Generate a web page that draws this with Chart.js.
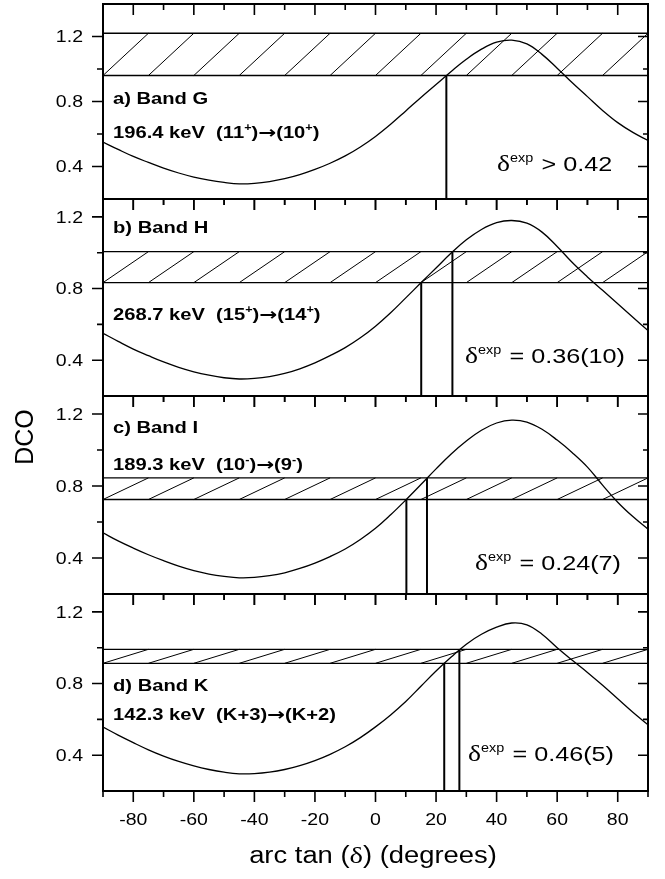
<!DOCTYPE html>
<html>
<head>
<meta charset="utf-8">
<script src="https://cdn.jsdelivr.net/npm/chart.js@4"></script>
<style>
  html, body { margin: 0; padding: 0; background: #fff; }
  #wrap { position: relative; width: 665px; height: 879px; }
  #wrap canvas { position: absolute; left: 0; top: 0; }
</style>
</head>
<body>
<div id="wrap">
  <canvas id="panel0" width="665" height="879"></canvas>
  <canvas id="panel1" width="665" height="879"></canvas>
  <canvas id="panel2" width="665" height="879"></canvas>
  <canvas id="panel3" width="665" height="879"></canvas>
</div>
<script>
// === Data (every 5 degrees) ===
const angles = [-90, -85, -80, -75, -70, -65, -60, -55, -50, -45, -40, -35, -30, -25, -20, -15, -10, -5,
                0, 5, 10, 15, 20, 25, 30, 35, 40, 45, 50, 55, 60, 65, 70, 75, 80, 85, 90];
const dcoBandG = [0.55, 0.505, 0.462, 0.425, 0.39, 0.36, 0.335, 0.316, 0.302, 0.293, 0.296, 0.307, 0.325, 0.35, 0.382, 0.42, 0.465, 0.52,
                  0.585, 0.66, 0.742, 0.825, 0.905, 0.985, 1.06, 1.122, 1.165, 1.178, 1.155, 1.09, 1.005, 0.915, 0.83, 0.745, 0.67, 0.61, 0.56];
const dcoBandH = [0.55, 0.505, 0.462, 0.425, 0.39, 0.36, 0.335, 0.316, 0.302, 0.295, 0.298, 0.308, 0.326, 0.352, 0.385, 0.425, 0.47, 0.525,
                  0.59, 0.665, 0.748, 0.832, 0.915, 0.998, 1.072, 1.13, 1.168, 1.18, 1.165, 1.115, 1.035, 0.945, 0.865, 0.79, 0.715, 0.64, 0.565];
const dcoBandI = [0.54, 0.495, 0.455, 0.418, 0.385, 0.355, 0.33, 0.311, 0.298, 0.29, 0.292, 0.302, 0.318, 0.342, 0.372, 0.408, 0.45, 0.503,
                  0.565, 0.64, 0.722, 0.808, 0.895, 0.978, 1.05, 1.11, 1.15, 1.166, 1.155, 1.115, 1.055, 0.985, 0.905, 0.805, 0.71, 0.63, 0.56];
const dcoBandK = [0.557, 0.512, 0.47, 0.43, 0.395, 0.365, 0.34, 0.32, 0.305, 0.296, 0.297, 0.305, 0.32, 0.342, 0.37, 0.405, 0.447, 0.498,
                  0.558, 0.625, 0.70, 0.785, 0.87, 0.948, 1.02, 1.075, 1.115, 1.138, 1.128, 1.075, 1.0, 0.93, 0.862, 0.79, 0.715, 0.64, 0.57];
const curves = [dcoBandG, dcoBandH, dcoBandI, dcoBandK];

// experimental DCO band (lower / upper edge)
const bandLow  = [0.96, 0.833, 0.725, 0.913];
const bandHigh = [1.22, 1.006, 0.845, 0.991];

// vertical limit lines (arc tan delta) and where they stop
const limitAngles = [[23.4], [15.1, 25.4], [10.2, 17.0], [22.7, 27.7]];
const limitTops   = [[0.96], [0.833, 1.006], [0.725, 0.845], [0.913, 0.991]];

const yMins = [0.2, 0.2, 0.2, 0.2];
const yMaxes = [1.4, 1.3, 1.3, 1.3];

const xTickValues = [-80, -60, -40, -20, 0, 20, 40, 60, 80];
const xTickLabels = ['-80', '-60', '-40', '-20', '0', '20', '40', '60', '80'];
const yTickValues = [0.4, 0.8, 1.2];
const yTickLabels = ['0.4', '0.8', '1.2'];
const yMinorValues = [0.6, 1.0];

const panelNames = ['a) Band G', 'b) Band H', 'c) Band I', 'd) Band K'];
const gammaEnergies = ['196.4 keV', '268.7 keV', '189.3 keV', '142.3 keV'];
const initialStates = [['(11', '+', ')'], ['(15', '+', ')'], ['(10', '-', ')'], ['(K+3)', '', '']];
const finalStates   = [['(10', '+', ')'], ['(14', '+', ')'], ['(9', '-', ')'], ['(K+2)', '', '']];
const deltaResults = ['> 0.42', '= 0.36(10)', '= 0.24(7)', '= 0.46(5)'];

// === Layout ===
const panelTops = [4, 199, 396, 594];
const panelBottoms = [199, 396, 594, 791];
const textLayout = [
  { title: 100, trans: 134, dx: 497, dy: 167 },
  { title: 34,  trans: 121, dx: 465, dy: 164 },
  { title: 37,  trans: 74,  dx: 475, dy: 174 },
  { title: 97,  trans: 126, dx: 468, dy: 167 }
];
const SANS = '"Liberation Sans", Arial, sans-serif';
const SERIF = '"Liberation Serif", "Times New Roman", serif';
const SX = 1.22; // the original figure is a bit stretched sideways

// draw a list of text runs, left to right, with a horizontal stretch
function drawRuns(ctx, runs, x, y, sx, align) {
  ctx.save();
  let total = 0;
  runs.forEach(r => { ctx.font = r.font; total += ctx.measureText(r.t).width + (r.gap || 0); });
  ctx.translate(x, y);
  ctx.scale(sx, 1);
  let cx = align === 'center' ? -total / 2 : align === 'right' ? -total : 0;
  ctx.textAlign = 'left';
  ctx.textBaseline = 'alphabetic';
  runs.forEach(r => {
    ctx.font = r.font;
    ctx.fillText(r.t, cx, r.dy || 0);
    cx += ctx.measureText(r.t).width + (r.gap || 0);
  });
  ctx.restore();
}

function drawPanel(chart, i) {
  const { ctx, chartArea: a, scales: { x, y } } = chart;
  ctx.save();
  ctx.strokeStyle = '#000';
  ctx.fillStyle = '#000';

  // hatch inside the band
  ctx.lineWidth = 1;
  ctx.beginPath();
  for (let d = -90; d < 90; d += 15) {
    ctx.moveTo(x.getPixelForValue(d), y.getPixelForValue(bandLow[i]));
    ctx.lineTo(x.getPixelForValue(d + 15), y.getPixelForValue(bandHigh[i]));
  }
  ctx.stroke();

  // frame
  ctx.lineWidth = 2;
  ctx.strokeRect(a.left, a.top, a.right - a.left, a.bottom - a.top);

  // x ticks: top inward, bottom outward
  ctx.lineWidth = 1.6;
  ctx.beginPath();
  for (let d = -90; d <= 90; d += 10) {
    const px = x.getPixelForValue(d);
    const len = d % 20 === 0 ? 11 : 6;
    ctx.moveTo(px, a.top); ctx.lineTo(px, a.top + len);
    ctx.moveTo(px, a.bottom); ctx.lineTo(px, a.bottom + len);
  }
  // y ticks: left outward, right inward
  yTickValues.concat(yMinorValues).forEach(v => {
    const py = y.getPixelForValue(v);
    const major = yTickValues.includes(v);
    ctx.moveTo(a.left, py); ctx.lineTo(a.left - (major ? 11 : 6), py);
    ctx.moveTo(a.right, py); ctx.lineTo(a.right - (major ? 10 : 5), py);
  });
  ctx.stroke();

  // y tick labels
  yTickValues.forEach((v, k) => {
    drawRuns(ctx, [{ t: yTickLabels[k], font: '16px ' + SANS }], 83, y.getPixelForValue(v) + 5.7, SX, 'right');
  });

  // annotations
  const L = textLayout[i];
  const bold = 'bold 16px ' + SANS;
  const sup = 'bold 10px ' + SANS;
  drawRuns(ctx, [{ t: panelNames[i], font: bold }], 113, a.top + L.title, 1.26, 'left');
  const s0 = initialStates[i], s1 = finalStates[i];
  drawRuns(ctx, [
    { t: gammaEnergies[i] + '  ' + s0[0], font: bold },
    { t: s0[1], font: sup, dy: -7 },
    { t: s0[2], font: bold },
    { t: '\u2192', font: 'bold 17px "DejaVu Sans", ' + SANS },
    { t: s1[0], font: bold },
    { t: s1[1], font: sup, dy: -7 },
    { t: s1[2], font: bold }
  ], 113, a.top + L.trans, 1.26, 'left');
  drawRuns(ctx, [
    { t: '\u03b4', font: '23px ' + SERIF },
    { t: 'exp', font: '12px ' + SANS, dy: -9, gap: 1 },
    { t: ' ' + deltaResults[i], font: '21px ' + SANS }
  ], L.dx, a.top + L.dy, 1.2, 'left');

  // shared axis texts on the bottom panel
  if (i === 3) {
    xTickValues.forEach((v, k) => {
      drawRuns(ctx, [{ t: xTickLabels[k], font: '16px ' + SANS }], x.getPixelForValue(v), 825, SX, 'center');
    });
    drawRuns(ctx, [
      { t: 'arc tan (', font: '23px ' + SANS },
      { t: '\u03b4', font: '24px ' + SERIF },
      { t: ') (degrees)', font: '23px ' + SANS }
    ], 373, 863, 1.19, 'center');
    ctx.save();
    ctx.translate(33, 437);
    ctx.rotate(-Math.PI / 2);
    drawRuns(ctx, [{ t: 'DCO', font: '25px ' + SANS }], 0, 0, 1.0, 'center');
    ctx.restore();
  }
  ctx.restore();
}

function makeChart(i) {
  const curvePoints = angles.map((a, k) => ({ x: a, y: curves[i][k] }));
  const lineStyle = { borderColor: '#000', pointRadius: 0, showLine: true, fill: false };
  const datasets = [
    Object.assign({ data: curvePoints, borderWidth: 1.3, tension: 0.4 }, lineStyle),
    Object.assign({ data: [{ x: -90, y: bandLow[i] }, { x: 90, y: bandLow[i] }], borderWidth: 1.3 }, lineStyle),
    Object.assign({ data: [{ x: -90, y: bandHigh[i] }, { x: 90, y: bandHigh[i] }], borderWidth: 1.3 }, lineStyle)
  ];
  limitAngles[i].forEach((ang, k) => {
    datasets.push(Object.assign({
      data: [{ x: ang, y: yMins[i] }, { x: ang, y: limitTops[i][k] }],
      borderWidth: 2
    }, lineStyle));
  });

  return new Chart(document.getElementById('panel' + i), {
    type: 'scatter',
    data: { datasets },
    options: {
      responsive: false,
      animation: false,
      devicePixelRatio: 1,
      layout: { padding: { left: 103, right: 17, top: panelTops[i], bottom: 879 - panelBottoms[i] } },
      plugins: { legend: { display: false }, tooltip: { enabled: false } },
      scales: {
        x: { type: 'linear', min: -90, max: 90, display: false },
        y: { type: 'linear', min: yMins[i], max: yMaxes[i], display: false }
      }
    },
    plugins: [{ id: 'panelDecor' + i, afterDraw: chart => drawPanel(chart, i) }]
  });
}

[0, 1, 2, 3].forEach(makeChart);
</script>
</body>
</html>
